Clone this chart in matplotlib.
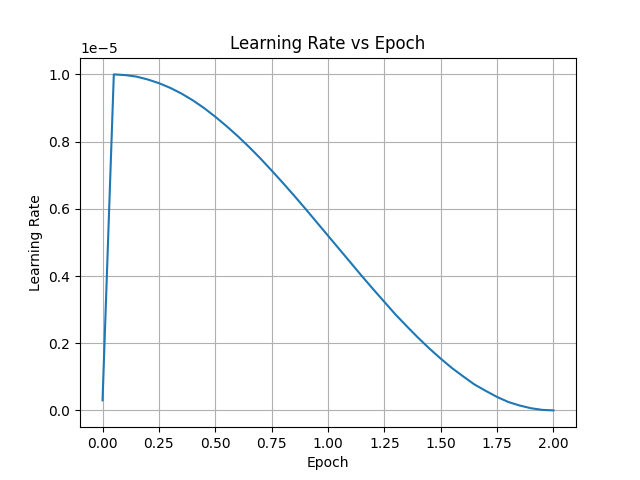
import numpy as np
import matplotlib
matplotlib.use('Agg')
import matplotlib.pyplot as plt

# Values (learning rate in units of 1e-5)
epochs = [0.0, 0.05, 0.1, 0.15, 0.2, 0.25, 0.3, 0.35, 0.4, 0.45, 0.5, 0.55,
          0.6, 0.65, 0.7, 0.75, 0.8, 0.85, 0.9, 0.95, 1.0, 1.05, 1.1, 1.15,
          1.2, 1.25, 1.3, 1.35, 1.4, 1.45, 1.5, 1.55, 1.6, 1.65, 1.7, 1.75,
          1.8, 1.85, 1.9, 1.95, 2.0]
lr_scaled = [0.03, 1.0, 0.998, 0.9935, 0.985, 0.974, 0.960, 0.943, 0.923, 0.900,
             0.874, 0.846, 0.816, 0.784, 0.750, 0.714, 0.677, 0.639, 0.600,
             0.560, 0.520, 0.480, 0.440, 0.400, 0.361, 0.323, 0.285, 0.250,
             0.216, 0.184, 0.154, 0.126, 0.101, 0.077, 0.058, 0.040, 0.025,
             0.0146, 0.0065, 0.0016, 0.0]

lr = np.array(lr_scaled) * 1e-5

fig = plt.figure(figsize=(6.4, 4.8), dpi=100)
plt.plot(epochs, lr)
plt.title('Learning Rate vs Epoch')
plt.xlabel('Epoch')
plt.ylabel('Learning Rate')
plt.grid(True)
plt.savefig('out.png')
